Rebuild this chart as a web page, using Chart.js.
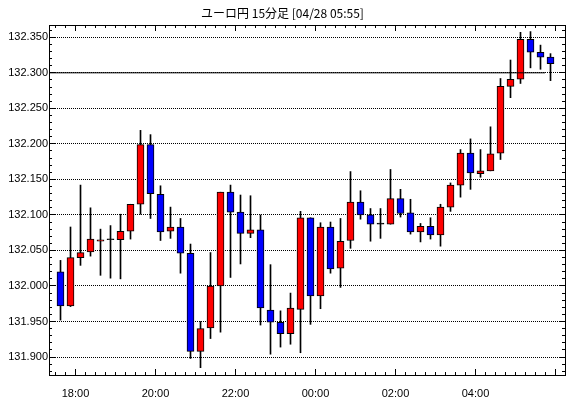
<!DOCTYPE html>
<html lang="ja">
<head>
    <meta charset="UTF-8">
    <title>ユーロ円 15分足</title>
    <script src="https://cdn.jsdelivr.net/npm/chart.js@4.4.0/dist/chart.umd.min.js"></script>
    <style>
        body {
            margin: 0;
            background: #fff;
            overflow: hidden;
        }
        canvas {
            display: block;
        }
    </style>
</head>
<body>
    <canvas id="chart" width="570" height="398"></canvas>

    <script>
        // 15 minute candles, 17:30 .. 05:45 (slot 0 = 17:30)
        const candleOpen = [
            132.020, 131.972, 132.040, 132.048, 132.063, 132.065, 132.065, 132.077, 132.115, 132.199,
            132.129, 132.077, 132.083, 132.046, 131.908, 131.941, 132.000, 132.132, 132.104, 132.074,
            132.079, 131.966, 131.949, 131.933, 131.967, 132.096, 131.986, 132.083, 132.025, 132.064,
            132.118, 132.100, 132.087, 132.087, 132.123, 132.103, 132.076, 132.084, 132.072, 132.111,
            132.142, 132.187, 132.158, 132.162, 132.187, 132.281, 132.291, 132.347, 132.329, 132.322
        ];
        const candleHigh = [
            132.036, 132.083, 132.142, 132.110, 132.080, 132.085, 132.101, 132.115, 132.219, 132.213,
            132.141, 132.111, 132.095, 132.059, 131.950, 132.047, 132.132, 132.142, 132.128, 132.127,
            132.100, 132.030, 131.965, 131.990, 132.105, 132.096, 132.089, 132.090, 132.095, 132.161,
            132.134, 132.109, 132.109, 132.164, 132.136, 132.122, 132.088, 132.096, 132.115, 132.145,
            132.192, 132.207, 132.192, 132.224, 132.292, 132.318, 132.357, 132.358, 132.339, 132.327
        ];
        const candleLow = [
            131.952, 131.971, 132.029, 132.042, 132.015, 132.011, 132.010, 132.066, 132.101, 132.095,
            132.064, 132.067, 132.018, 131.898, 131.885, 131.926, 131.935, 132.012, 132.031, 132.068,
            131.945, 131.904, 131.914, 131.918, 131.906, 131.946, 131.968, 132.018, 131.998, 132.053,
            132.094, 132.063, 132.067, 132.087, 132.097, 132.073, 132.062, 132.066, 132.056, 132.105,
            132.125, 132.136, 132.153, 132.162, 132.178, 132.265, 132.285, 132.307, 132.305, 132.289
        ];
        const candleClose = [
            131.972, 132.040, 132.047, 132.066, 132.065, 132.065, 132.077, 132.115, 132.199, 132.130,
            132.076, 132.083, 132.046, 131.908, 131.940, 132.000, 132.132, 132.104, 132.074, 132.079,
            131.969, 131.949, 131.933, 131.969, 132.096, 131.986, 132.083, 132.024, 132.063, 132.118,
            132.100, 132.087, 132.087, 132.123, 132.102, 132.076, 132.084, 132.072, 132.111, 132.142,
            132.187, 132.159, 132.162, 132.186, 132.281, 132.291, 132.347, 132.329, 132.322, 132.313
        ];

        const timeLabels = ['18:00', '20:00', '22:00', '00:00', '02:00', '04:00'];
        const firstLabelSlot = 1.5;   // 18:00 sits between slot 1 and 2
        const slotsPerLabel = 8;      // 2 hours

        const refLevel = 132.300;
        const refFrom = -1.15;
        const refTo = 48.45;

        const xMin = -1.15, xMax = 50.45;
        const yMin = 131.8747, yMax = 132.3673;

        const isMajorY = v => Math.round(v * 1000) % 50 === 0;

        const yTickValues = [];
        for (let k = 13188; k <= 13236; k++) yTickValues.push(k / 100);
        const xTickValues = [];
        for (let k = -1; k <= 49; k++) xTickValues.push(k + 0.5);

        const bodyColors = candleOpen.map((o, i) =>
            candleClose[i] > o ? '#ff0000' : candleClose[i] < o ? '#0000ff' : '#000000');

        const frameTicks = {
            id: 'frameTicks',
            afterDatasetsDraw(chart) {
                const { ctx, chartArea: a, scales: { x, y } } = chart;
                ctx.save();
                ctx.strokeStyle = '#000';
                ctx.lineWidth = 1;
                ctx.beginPath();
                y.ticks.forEach(t => {
                    const py = Math.round(y.getPixelForValue(t.value) - 0.5) + 0.5;
                    const len = isMajorY(t.value) ? 6 : 3;
                    ctx.moveTo(a.left, py); ctx.lineTo(a.left + len, py);
                    ctx.moveTo(a.right, py); ctx.lineTo(a.right - len, py);
                });
                x.ticks.forEach(t => {
                    const px = Math.floor(x.getPixelForValue(t.value)) + 0.5;
                    const len = (t.value - firstLabelSlot) % slotsPerLabel === 0 ? 6 : 3;
                    ctx.moveTo(px, a.bottom); ctx.lineTo(px, a.bottom - len);
                    ctx.moveTo(px, a.top); ctx.lineTo(px, a.top + len);
                });
                ctx.stroke();
                ctx.strokeRect(a.left + 0.5, a.top + 0.5, a.right - a.left, a.bottom - a.top);
                ctx.restore();
            }
        };

        const tickFont = { family: "'Liberation Sans', Arial, sans-serif", size: 11 };

        new Chart(document.getElementById('chart'), {
            type: 'bar',
            data: {
                datasets: [{
                    type: 'line',
                    data: [{ x: refFrom, y: refLevel }, { x: refTo, y: refLevel }],
                    borderColor: '#000',
                    borderWidth: 1,
                    pointRadius: 0,
                    order: 0
                }, {
                    data: candleOpen.map((o, i) => ({ x: i, y: [o, candleClose[i]] })),
                    backgroundColor: bodyColors,
                    borderColor: '#000',
                    borderWidth: 1,
                    borderSkipped: false,
                    barThickness: 7,
                    minBarLength: 1,
                    grouped: false,
                    order: 1
                }, {
                    data: candleLow.map((l, i) => ({ x: i, y: [l, candleHigh[i]] })),
                    backgroundColor: '#000',
                    borderWidth: 0,
                    barThickness: 1,
                    grouped: false,
                    order: 2
                }]
            },
            options: {
                responsive: false,
                animation: false,
                layout: { padding: { top: 0, right: 5, bottom: 0, left: 0 } },
                plugins: {
                    legend: { display: false },
                    tooltip: { enabled: false },
                    title: {
                        display: true,
                        text: 'ユーロ円 15分足 [04/28 05:55]',
                        color: '#000',
                        font: { family: "'Noto Sans CJK JP', sans-serif", size: 12, weight: 'normal', lineHeight: 1.25 },
                        padding: { top: 6, bottom: 4 }
                    }
                },
                scales: {
                    x: {
                        type: 'linear',
                        offset: false,
                        min: xMin,
                        max: xMax,
                        afterBuildTicks: s => { s.ticks = xTickValues.map(v => ({ value: v })); },
                        afterFit: s => { s.height = 23; },
                        grid: { display: false, offset: false },
                        border: { display: false },
                        ticks: {
                            autoSkip: false,
                            maxRotation: 0,
                            padding: 4,
                            color: '#000',
                            font: tickFont,
                            callback: v => {
                                const k = (v - firstLabelSlot) / slotsPerLabel;
                                return Number.isInteger(k) && k >= 0 && k < timeLabels.length ? timeLabels[k] : '';
                            }
                        }
                    },
                    y: {
                        min: yMin,
                        max: yMax,
                        afterBuildTicks: s => { s.ticks = yTickValues.map(v => ({ value: v })); },
                        afterFit: s => { s.width = 49; },
                        grid: {
                            drawTicks: false,
                            lineWidth: 1,
                            color: c => (c.tick && isMajorY(c.tick.value)) ? '#000' : 'rgba(0,0,0,0)'
                        },
                        border: { display: false, dash: [1, 1] },
                        ticks: {
                            autoSkip: false,
                            padding: 1,
                            color: '#000',
                            font: tickFont,
                            callback: v => isMajorY(v) ? v.toFixed(3) : ''
                        }
                    }
                }
            },
            plugins: [frameTicks]
        });
    </script>
</body>
</html>
